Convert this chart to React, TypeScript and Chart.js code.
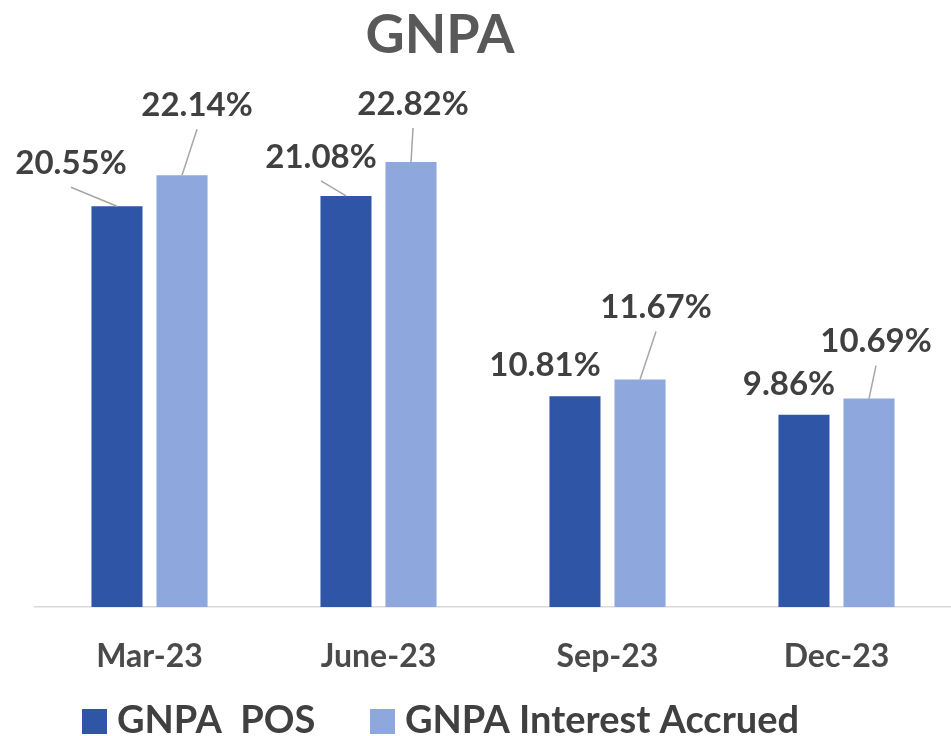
import { useEffect, useRef } from 'react';
import { Chart, registerables } from 'chart.js';

Chart.register(...registerables);

const chartTitle = 'GNPA';
const categories = ['Mar-23', 'June-23', 'Sep-23', 'Dec-23'];
const seriesNames = ['GNPA  POS', 'GNPA Interest Accrued'];
const gnpaPos = [20.55, 21.08, 10.81, 9.86];
const gnpaInterestAccrued = [22.14, 22.82, 11.67, 10.69];
const yMax = 28;

// label placement relative to the top-centre of each bar (layout only)
const labelOffsets = [
  [
    { dx: -46, dy: -43, line: true },
    { dx: -25, dy: -39, line: true },
    { dx: -30, dy: -31, line: false },
    { dx: -15, dy: -30, line: false },
  ],
  [
    { dx: 15, dy: -70, line: true },
    { dx: 2, dy: -58, line: true },
    { dx: 16, dy: -72, line: true },
    { dx: 7, dy: -57, line: true },
  ],
];

// legend item left edges (layout only)
const legendX = [82, 370];

const FONT = 'Lato';
const DARK = '#2F55A7';
const LIGHT = '#8EA7DC';
const TEXT = '#404040';

const labelPlugin = {
  id: 'gnpaLabels',
  afterDatasetsDraw(chart: any) {
    const ctx = chart.ctx;
    ctx.save();
    chart.data.datasets.forEach((ds: any, i: number) => {
      const meta = chart.getDatasetMeta(i);
      meta.data.forEach((el: any, j: number) => {
        const off = labelOffsets[i][j];
        const lx = el.x + off.dx;
        const ly = el.y + off.dy;
        if (off.line) {
          ctx.beginPath();
          ctx.strokeStyle = '#A6A6A6';
          ctx.lineWidth = 1.5;
          ctx.moveTo(lx, ly + 24);
          ctx.lineTo(el.x, el.y);
          ctx.stroke();
        }
        ctx.fillStyle = TEXT;
        ctx.font = `bold 33px ${FONT}`;
        ctx.textAlign = 'center';
        ctx.textBaseline = 'middle';
        ctx.fillText(Number(ds.data[j]).toFixed(2) + '%', lx, ly);
      });
    });
    ctx.restore();
  },
  afterDraw(chart: any) {
    const ctx = chart.ctx;
    ctx.save();
    // title
    ctx.fillStyle = '#595959';
    ctx.font = `bold 54px ${FONT}`;
    ctx.textAlign = 'center';
    ctx.textBaseline = 'middle';
    ctx.fillText(chartTitle, 440, 36);
    // legend
    ctx.font = `bold 38px ${FONT}`;
    ctx.textAlign = 'left';
    chart.data.datasets.forEach((ds: any, i: number) => {
      const x = legendX[i];
      ctx.fillStyle = ds.backgroundColor;
      ctx.fillRect(x, 709, 25, 25);
      ctx.fillStyle = TEXT;
      ctx.fillText(ds.label, x + 35, 721);
    });
    ctx.restore();
  },
};

export default function App() {
  const ref = useRef<HTMLCanvasElement | null>(null);
  useEffect(() => {
    if (!ref.current) return;
    const chart = new Chart(ref.current, {
      type: 'bar',
      data: {
        labels: categories,
        datasets: [
          {
            label: seriesNames[0],
            data: gnpaPos,
            backgroundColor: DARK,
            categoryPercentage: 0.568,
            barPercentage: 0.785,
          },
          {
            label: seriesNames[1],
            data: gnpaInterestAccrued,
            backgroundColor: LIGHT,
            categoryPercentage: 0.568,
            barPercentage: 0.785,
          },
        ],
      },
      options: {
        responsive: false,
        animation: false,
        devicePixelRatio: 1,
        layout: { padding: { left: 35, right: 0, top: 61, bottom: 0 } },
        plugins: {
          title: { display: false },
          tooltip: { enabled: false },
          legend: { display: false },
        },
        scales: {
          x: {
            grid: { display: false, drawTicks: false },
            border: { display: true, color: '#D9D9D9', width: 1.5 },
            ticks: {
              padding: 30,
              color: '#4A4A4A',
              font: { family: FONT, size: 32, weight: 'bold' },
            },
            afterFit: (scale: any) => {
              scale.height = 129;
            },
          },
          y: {
            display: false,
            min: 0,
            max: yMax,
          },
        },
      },
      plugins: [labelPlugin],
    });
    return () => chart.destroy();
  }, []);
  return (
    <div style={{ position: 'fixed', left: 0, top: 0, width: 951, height: 736, background: '#fff' }}>
      <canvas ref={ref} width={951} height={736} style={{ display: 'block' }} />
    </div>
  );
}
